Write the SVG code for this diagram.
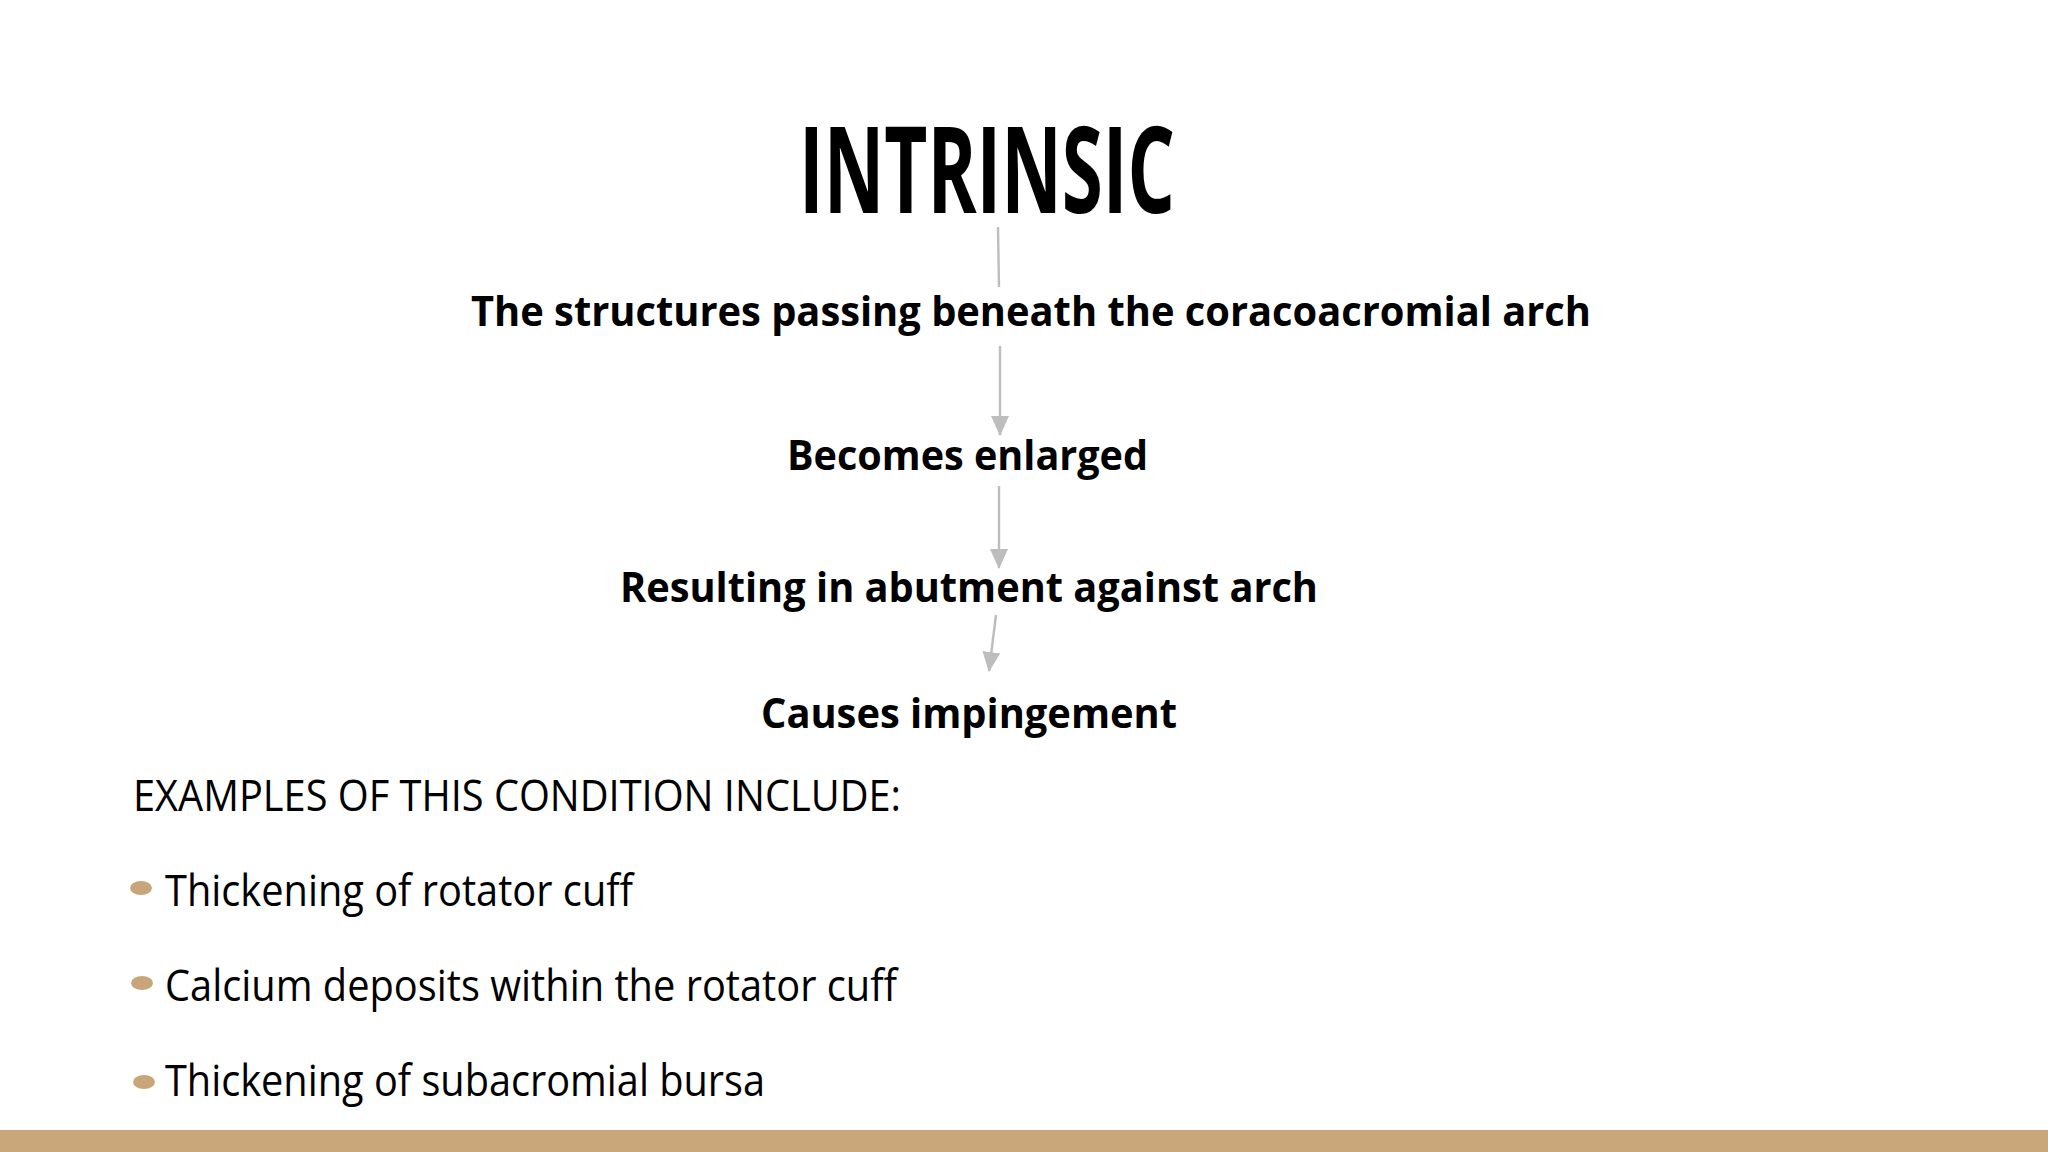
<svg xmlns="http://www.w3.org/2000/svg" width="2048" height="1152" viewBox="0 0 2048 1152">
<defs>
<style>
.title{font-family:"Open Sans","Liberation Sans",sans-serif;font-weight:700;font-size:120px;fill:#000}
.step{font-family:"Open Sans","Liberation Sans",sans-serif;font-weight:700;font-size:41px;fill:#000}
.body{font-family:"Open Sans","Liberation Sans",sans-serif;font-weight:400;font-size:43px;fill:#000}
.conn{stroke:#bdbdbd;stroke-width:2.4;fill:none}
.bullet{fill:#c9a67a}
</style>
<marker id="arrow" markerWidth="20" markerHeight="18" refX="19" refY="9" orient="auto" markerUnits="userSpaceOnUse" viewBox="0 0 20 18">
<path d="M0,0 L20,9 L0,18 Z" fill="#bdbdbd"/>
</marker>
</defs>
<rect x="0" y="0" width="2048" height="1152" fill="#ffffff"/>
<g id="connectors">
<line class="conn" x1="998" y1="227" x2="999" y2="287"/>
<line class="conn" x1="1000" y1="346" x2="1000" y2="435" marker-end="url(#arrow)"/>
<line class="conn" x1="999" y1="486" x2="999" y2="568" marker-end="url(#arrow)"/>
<line class="conn" x1="996" y1="615" x2="989" y2="671" marker-end="url(#arrow)"/>
</g>
<g id="node-title">
<text class="title" x="799" y="213" textLength="376" lengthAdjust="spacingAndGlyphs">INTRINSIC</text>
</g>
<g id="node-structures">
<text class="step" x="471" y="326" textLength="1120" lengthAdjust="spacingAndGlyphs">The structures passing beneath the coracoacromial arch</text>
</g>
<g id="node-enlarged">
<text class="step" x="787" y="470" textLength="361" lengthAdjust="spacingAndGlyphs">Becomes enlarged</text>
</g>
<g id="node-abutment">
<text class="step" x="620" y="602" textLength="698" lengthAdjust="spacingAndGlyphs">Resulting in abutment against arch</text>
</g>
<g id="node-impingement">
<text class="step" x="761" y="728" textLength="416" lengthAdjust="spacingAndGlyphs">Causes impingement</text>
</g>
<g id="examples">
<text class="body" x="133" y="811" textLength="768" lengthAdjust="spacingAndGlyphs">EXAMPLES OF THIS CONDITION INCLUDE:</text>
<ellipse class="bullet" cx="141" cy="888" rx="11" ry="7"/>
<text class="body" x="165" y="906" textLength="468" lengthAdjust="spacingAndGlyphs">Thickening of rotator cuff</text>
<ellipse class="bullet" cx="142" cy="983" rx="11" ry="7"/>
<text class="body" x="165" y="1001" textLength="732" lengthAdjust="spacingAndGlyphs">Calcium deposits within the rotator cuff</text>
<ellipse class="bullet" cx="144" cy="1082" rx="11" ry="7"/>
<text class="body" x="165" y="1096" textLength="600" lengthAdjust="spacingAndGlyphs">Thickening of subacromial bursa</text>
</g>
<rect x="0" y="1130" width="2048" height="22" fill="#c9a77b"/>
</svg>
